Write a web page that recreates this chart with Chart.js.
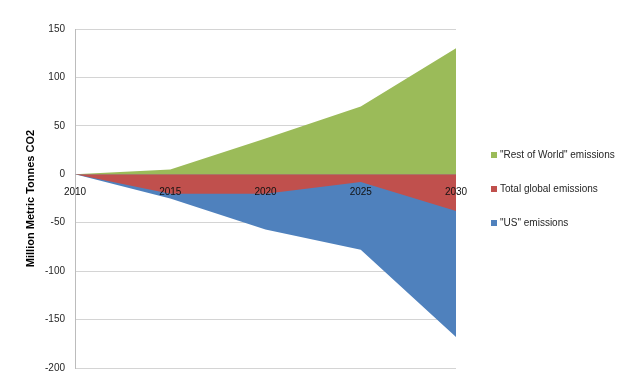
<!DOCTYPE html>
<html>
<head>
<meta charset="utf-8">
<title>Emissions change</title>
<script src="https://cdn.jsdelivr.net/npm/chart.js@4.4.1/dist/chart.umd.min.js"></script>
<style>
  html, body { margin: 0; padding: 0; background: #fff; }
  #wrap { position: relative; width: 635px; height: 387px; }
</style>
</head>
<body>
<div id="wrap"><canvas id="chart"></canvas></div>
<script>
// --- data ---
const years = ['2010', '2015', '2020', '2025', '2030'];
const restOfWorld = [0, 5, 37, 70, 130];
const totalGlobal = [0, -20, -20, -8, -38];
const usEmissions = [0, -25, -57, -78, -168];
const yTicks = [-200, -150, -100, -50, 0, 50, 100, 150];

const FONT = "'Liberation Sans', Arial, sans-serif";
const TEXT = '#262626';

// legend on the right, drawn on the canvas from the dataset labels/colours
const sideLegend = {
  id: 'sideLegend',
  afterDraw(chart) {
    const ctx = chart.ctx;
    ctx.save();
    ctx.font = '10px ' + FONT;
    ctx.textBaseline = 'middle';
    ctx.textAlign = 'left';
    chart.data.datasets.forEach((ds, i) => {
      const y = 155 + i * 34;
      ctx.fillStyle = ds.backgroundColor;
      ctx.fillRect(491, y - 3, 6, 6);
      ctx.fillStyle = TEXT;
      ctx.fillText(ds.label, 500, y);
    });
    ctx.restore();
  }
};

const ctx = document.getElementById('chart').getContext('2d');
new Chart(ctx, {
  type: 'line',
  data: {
    labels: years,
    datasets: [
      { label: '"Rest of World" emissions', data: restOfWorld, backgroundColor: '#9BBB59' },
      { label: 'Total global emissions', data: totalGlobal, backgroundColor: '#C0504D' },
      { label: '"US" emissions', data: usEmissions, backgroundColor: '#4F81BD' }
    ].map(d => Object.assign(d, { fill: 'origin', borderWidth: 0, pointRadius: 0, tension: 0 }))
  },
  options: {
    responsive: true,
    maintainAspectRatio: false,
    animation: false,
    layout: { padding: { left: 0, top: 29, right: 179, bottom: 19 } },
    plugins: { legend: { display: false }, tooltip: { enabled: false } },
    scales: {
      x: {
        position: { y: 0 },
        offset: false,
        grid: { display: false, drawTicks: false },
        border: { display: false },
        ticks: { z: 1, color: '#111', font: { family: FONT, size: 10 }, padding: 12, maxRotation: 0, autoSkip: false }
      },
      y: {
        min: -200,
        max: 150,
        afterFit(scale) { scale.width = 75; },
        afterBuildTicks(scale) { scale.ticks = yTicks.map(v => ({ value: v })); },
        grid: { color: '#d4d4d4', drawTicks: false },
        border: { color: '#bcbcbc' },
        ticks: { color: TEXT, font: { family: FONT, size: 10 }, padding: 10 },
        title: {
          display: true,
          text: 'Million Metric Tonnes CO2',
          color: '#000',
          font: { family: FONT, size: 11, weight: 'bold' },
          padding: { top: 24, bottom: 0 }
        }
      }
    }
  },
  plugins: [sideLegend]
});
</script>
</body>
</html>
